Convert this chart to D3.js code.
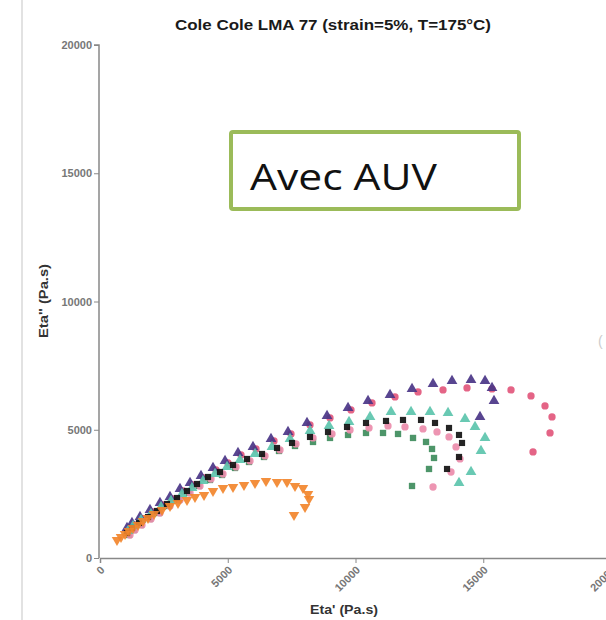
<!DOCTYPE html>
<html>
<head>
<meta charset="utf-8">
<script src="https://cdn.jsdelivr.net/npm/d3@7"></script>
<style>
  html, body { margin: 0; padding: 0; background: #fff; }
  svg { display: block; }
  .tick text { font-family: Arial, "Liberation Sans", sans-serif; font-size: 11px; font-weight: bold; fill: #777; }
  .axis path, .axis line { stroke: #888; }
</style>
</head>
<body>
<div id="chart"></div>
<script>
// Cole-Cole plot: Eta' (x) vs Eta'' (y), values in Pa.s
const title = "Cole Cole LMA 77 (strain=5%, T=175°C)"
const xTicks = [0, 5000, 10000, 15000, 20000]
const yTicks = [0, 5000, 10000, 15000, 20000]

const orangeTri = [[665,702],[822,819],[979,936],[1135,1053],[1292,1170],[1487,1287],[1683,1443],[1879,1560],[2114,1716],[2427,1872],[2740,2028],[3053,2145],[3405,2262],[3718,2379],[4071,2457],[4423,2613],[4814,2730],[5206,2769],[5636,2847],[6067,2925],[6497,3003],[6928,2964],[7319,2964],[7632,2808],[7945,2730],[8141,2496],[8180,2301],[8024,1989],[7593,1677]]

const pinkDot = [[1174,1092],[1370,1287],[1683,1521],[2074,1794],[2466,2067],[2857,2301],[3249,2613],[3640,2847],[4071,3120],[4540,3432],[5010,3705],[5519,4017],[6106,4251],[6810,4563],[7476,4836],[8219,5187],[9002,5460],[9824,5772],[10646,6045],[11546,6279],[12447,6474],[13425,6552],[14364,6630],[15343,6591],[16087,6552],[16869,6318],[17417,5928],[17691,5499],[17613,4875],[16948,4134]]

const purpleTri = [[1057,1170],[1252,1365],[1566,1599],[1957,1872],[2348,2145],[2740,2379],[3131,2691],[3523,2925],[3953,3198],[4423,3510],[4893,3783],[5401,4095],[5988,4329],[6693,4641],[7358,4914],[8102,5265],[8885,5538],[9707,5850],[10490,6123],[11351,6357],[12212,6591],[13034,6786],[13777,6903],[14521,6942],[15069,6903],[15343,6630],[15421,6123],[14873,5499]]

const greenSq = [[1135,897],[1331,1092],[1605,1287],[1957,1521],[2309,1755],[2701,2028],[3092,2262],[3483,2535],[3875,2808],[4305,3042],[4775,3237],[5284,3510],[5832,3744],[6419,3939],[7006,4173],[7632,4368],[8337,4524],[9002,4680],[9707,4797],[10411,4875],[11077,4875],[11664,4836],[12251,4680],[12760,4524],[12995,4251],[13073,3900],[12877,3471],[12212,2808]]

const lightPinkDot = [[1174,897],[1370,1092],[1644,1287],[1996,1521],[2348,1755],[2740,2028],[3131,2262],[3523,2535],[3914,2808],[4345,3081],[4814,3276],[5323,3549],[5871,3783],[6458,3978],[7045,4212],[7671,4446],[8337,4680],[9080,4836],[9785,4992],[10529,5070],[11272,5148],[11937,5109],[12642,5031],[13190,4914],[13660,4719],[13934,4329],[14090,3861],[13738,3354],[13034,2769]]

const tealTri = [[1096,1053],[1292,1248],[1605,1482],[1996,1716],[2388,1989],[2779,2223],[3209,2496],[3601,2730],[4031,3003],[4501,3276],[4971,3549],[5479,3822],[6067,4056],[6732,4329],[7437,4641],[8219,4953],[8963,5148],[9746,5304],[10568,5499],[11390,5694],[12173,5694],[12916,5694],[13621,5655],[14286,5421],[14678,5109],[15069,4680],[14912,4173],[14521,3354],[14051,2925]]

const blackSq = [[1057,975],[1252,1170],[1526,1365],[1879,1599],[2231,1833],[2622,2106],[3014,2340],[3405,2613],[3797,2886],[4227,3159],[4697,3354],[5206,3627],[5754,3861],[6341,4056],[6928,4290],[7515,4485],[8219,4719],[8924,4914],[9668,5109],[10411,5265],[11194,5343],[11859,5382],[12564,5382],[13112,5265],[13660,5070],[14051,4797],[14169,4485],[14051,3939],[13582,3471]]

const series = [
  { data: pinkDot, shape: d3.symbolCircle, size: 42, color: "#e2577c" },
  { data: purpleTri, shape: d3.symbolTriangle, size: 50, color: "#4a3587" },
  { data: greenSq, shape: d3.symbolSquare, size: 40, color: "#3e8c5c" },
  { data: lightPinkDot, shape: d3.symbolCircle, size: 42, color: "#ec8cab" },
  { data: tealTri, shape: d3.symbolTriangle, size: 50, color: "#5cc4ac" },
  { data: blackSq, shape: d3.symbolSquare, size: 38, color: "#111111" },
  { data: orangeTri, shape: d3.symbolTriangle, size: 48, color: "#f2852c", flip: true }
]

const W = 606, H = 620
const font = "Arial, 'Liberation Sans', sans-serif"

const svg = d3.select("#chart").append("svg")
  .attr("width", W)
  .attr("height", H)

// faint border at the left edge of the original frame
svg.append("line")
  .attr("x1", 22).attr("x2", 22)
  .attr("y1", 0).attr("y2", H)
  .attr("stroke", "#e2e2e2")
  .attr("stroke-width", 2)

const x = d3.scaleLinear().domain([0, 20000]).range([100, 611])
const y = d3.scaleLinear().domain([0, 20000]).range([558, 45])

// Y axis
svg.append("g")
  .attr("class", "axis")
  .attr("transform", `translate(${x(0) - 1},0)`)
  .call(d3.axisLeft(y).tickValues(yTicks).tickFormat(d3.format("d")).tickSize(5).tickPadding(2))
  .call(g => g.select(".domain").attr("d", `M-5,${y(20000)}H0V${y(0)}`).attr("stroke-width", 1.5))

// X axis (20000 label runs off the right edge, as in the original crop)
svg.append("g")
  .attr("class", "axis")
  .attr("transform", `translate(0,${y(0)})`)
  .call(d3.axisBottom(x).tickValues(xTicks).tickFormat(d3.format("d")).tickSize(5))
  .call(g => g.select(".domain").attr("stroke-width", 1.5))
  .selectAll("text")
  .attr("transform", "rotate(-45)")
  .attr("dx", "-0.5em")
  .attr("dy", "0.4em")
  .style("text-anchor", "end")

// Title
svg.append("text")
  .attr("x", 333)
  .attr("y", 30)
  .attr("text-anchor", "middle")
  .attr("font-family", font)
  .attr("font-weight", "bold")
  .attr("font-size", "14px")
  .attr("textLength", 316)
  .attr("lengthAdjust", "spacingAndGlyphs")
  .attr("fill", "#1a1a1a")
  .text(title)

// Axis labels
svg.append("text")
  .attr("x", 344)
  .attr("y", 614)
  .attr("text-anchor", "middle")
  .attr("font-family", font)
  .attr("font-weight", "bold")
  .attr("font-size", "13px")
  .attr("textLength", 68)
  .attr("lengthAdjust", "spacingAndGlyphs")
  .attr("fill", "#333")
  .text("Eta' (Pa.s)")

svg.append("text")
  .attr("transform", "rotate(-90)")
  .attr("x", -301)
  .attr("y", 48)
  .attr("text-anchor", "middle")
  .attr("font-family", font)
  .attr("font-weight", "bold")
  .attr("font-size", "13px")
  .attr("textLength", 74)
  .attr("lengthAdjust", "spacingAndGlyphs")
  .attr("fill", "#333")
  .text("Eta'' (Pa.s)")

// cropped glyph at the right edge
svg.append("text")
  .attr("x", 598)
  .attr("y", 346)
  .attr("font-family", font)
  .attr("font-size", "14px")
  .attr("fill", "#ccc")
  .text("(")

// Points
series.forEach(s => {
  const sym = d3.symbol().type(s.shape).size(s.size)
  svg.append("g")
    .selectAll("path")
    .data(s.data)
    .enter()
    .append("path")
    .attr("d", sym)
    .attr("transform", d => `translate(${x(d[0])},${y(d[1])})${s.flip ? " rotate(180)" : ""}`)
    .attr("fill", s.color)
    .attr("opacity", 0.92)
})

// Annotation box
svg.append("rect")
  .attr("x", 231)
  .attr("y", 132)
  .attr("width", 288)
  .attr("height", 77)
  .attr("rx", 2)
  .attr("fill", "#fff")
  .attr("stroke", "#9bbb59")
  .attr("stroke-width", 4)

svg.append("text")
  .attr("x", 250)
  .attr("y", 190)
  .attr("font-family", "'Open Sans', 'Noto Sans', sans-serif")
  .attr("font-size", "36px")
  .attr("textLength", 187)
  .attr("lengthAdjust", "spacingAndGlyphs")
  .attr("fill", "#111")
  .text("Avec AUV")
</script>
</body>
</html>
